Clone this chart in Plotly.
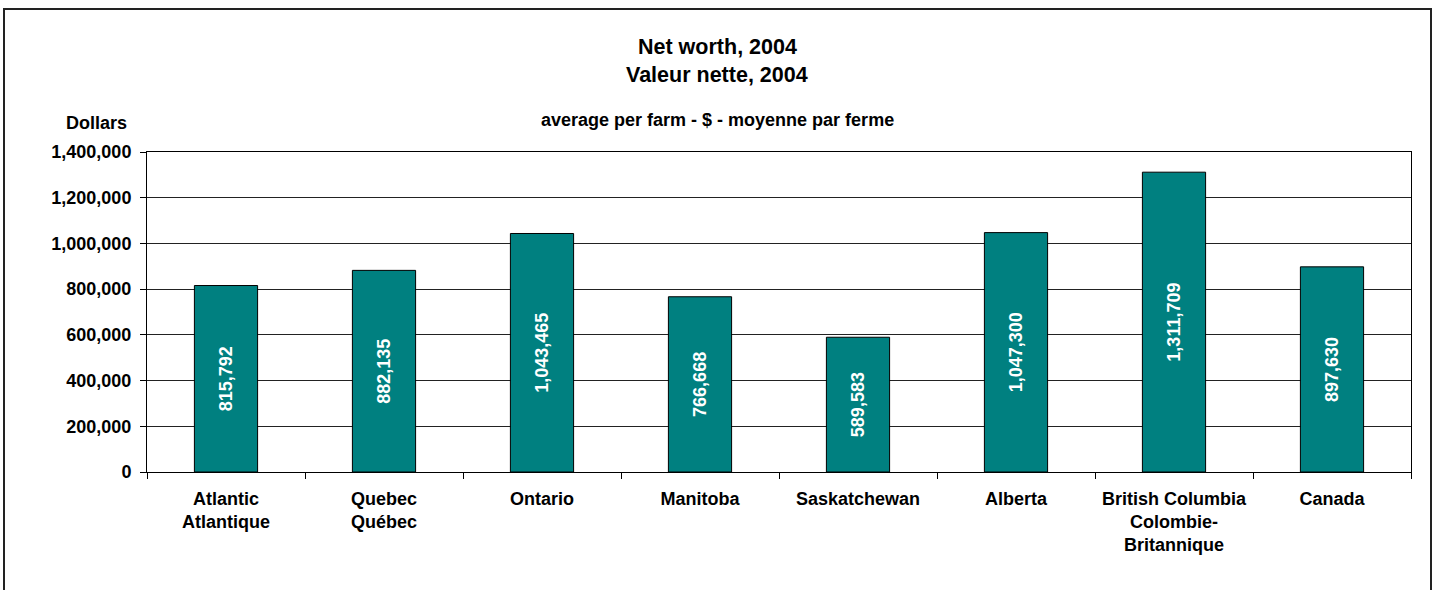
import plotly.graph_objects as go

categories = ["Atlantic<br>Atlantique", "Quebec<br>Québec", "Ontario", "Manitoba",
              "Saskatchewan", "Alberta", "British Columbia<br>Colombie-<br>Britannique", "Canada"]
values = [815792, 882135, 1043465, 766668, 589583, 1047300, 1311709, 897630]
y_ticks = [0, 200000, 400000, 600000, 800000, 1000000, 1200000, 1400000]

FONT = "Arial, Liberation Sans, sans-serif"
W, H = 1438, 590
L, R, T, B = 147, 1411, 152, 472

def px_x(x):
    return (x - L) / (R - L)

def px_y(y):
    return (B - y) / (B - T)

fig = go.Figure()
fig.add_trace(go.Bar(
    x=categories, y=values,
    marker=dict(color="#008080", line=dict(color="#000000", width=1)),
    text=[f"{v:,}" for v in values],
    textposition="inside", textangle=-90, insidetextanchor="middle",
    insidetextfont=dict(color="white", size=18, family=FONT, weight="bold"),
    hoverinfo="skip",
))

fig.update_layout(
    width=W, height=H,
    margin=dict(l=L, r=W - R, t=T, b=H - B, pad=0),
    paper_bgcolor="white", plot_bgcolor="white",
    bargap=0.6, showlegend=False,
    font=dict(family=FONT, color="black"),
)
fig.update_xaxes(
    showline=True, linecolor="black", linewidth=1, mirror=True,
    ticks="outside", ticklen=6, tickcolor="black", tickson="boundaries",
    tickfont=dict(size=18, family=FONT, weight="bold", color="black"),
    ticklabelstandoff=10,
    showgrid=False, fixedrange=True,
)
fig.update_yaxes(
    range=[0, 1400000], tickvals=y_ticks, tickformat=",",
    showline=True, linecolor="black", linewidth=1, mirror=True,
    ticks="outside", ticklen=6, tickcolor="black",
    showgrid=True, gridcolor="#222222", gridwidth=1,
    tickfont=dict(size=18, family=FONT, weight="bold", color="black"),
    ticklabelstandoff=5,
    zeroline=False, fixedrange=True,
)

anns = [
    dict(text="<b>Net worth, 2004</b>", x=px_x(717), y=px_y(47), size=21.5, xanchor="center"),
    dict(text="<b>Valeur nette, 2004</b>", x=px_x(717), y=px_y(75), size=21.5, xanchor="center"),
    dict(text="<b>average per farm - $ - moyenne par ferme</b>", x=px_x(717), y=px_y(120), size=18, xanchor="center"),
    dict(text="<b>Dollars</b>", x=px_x(129), y=px_y(123), size=18, xanchor="right"),
]
for a in anns:
    fig.add_annotation(text=a["text"], x=a["x"], y=a["y"], xref="paper", yref="paper",
                       xanchor=a["xanchor"], yanchor="middle", showarrow=False,
                       font=dict(size=a["size"], family=FONT, color="black"))

fig.add_shape(type="rect", xref="paper", yref="paper",
              x0=px_x(4), x1=px_x(1431), y0=px_y(620), y1=px_y(9),
              line=dict(color="#222222", width=2), fillcolor="rgba(0,0,0,0)", layer="above")

fig.write_html("out.html", config={"displayModeBar": False},
               post_script="document.body.style.margin='0';document.body.style.overflow='hidden';")
